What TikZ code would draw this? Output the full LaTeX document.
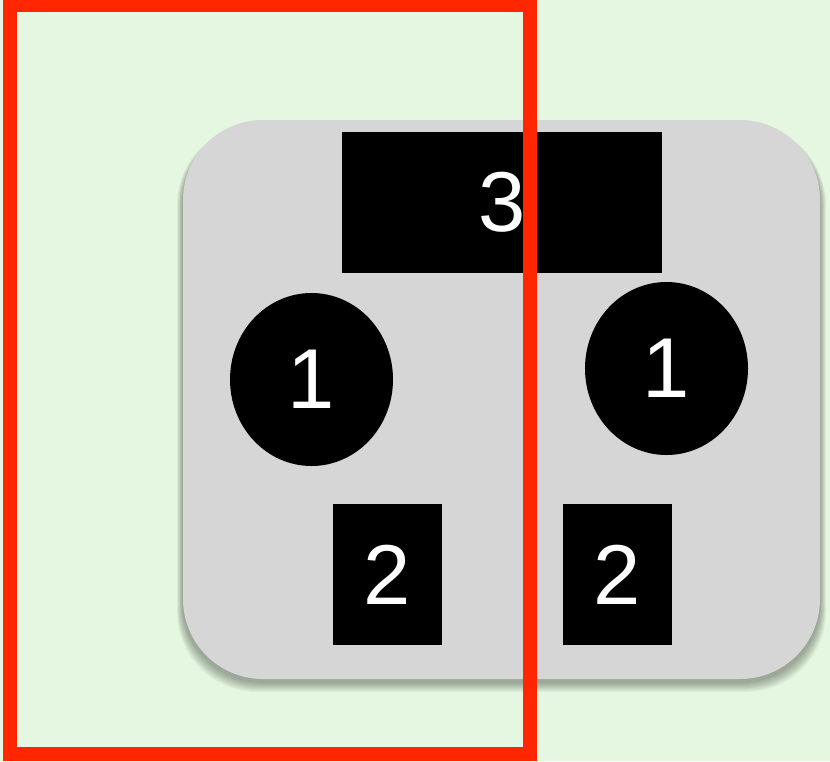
\documentclass[tikz,border=0pt]{standalone}
\usepackage{fontspec}
\setmainfont{Liberation Sans}
\usetikzlibrary{shapes.geometric}
\definecolor{bggreen}{RGB}{229,247,224}
\definecolor{boxgray}{RGB}{214,214,214}
\definecolor{framered}{RGB}{255,38,0}
\tikzset{
  blackbox/.style={fill=black, text=white, inner sep=0pt, font=\fontsize{85}{85}\selectfont},
  blackoval/.style={blackbox, ellipse},
}
\begin{document}
\begin{tikzpicture}[x=1pt, y=-1pt]
\useasboundingbox (0,0) rectangle (830,761);
\fill[bggreen] (0,0) rectangle (830,761);
% shadow
\foreach \i in {1,...,10}{
  \fill[black, opacity=0.035, rounded corners=80pt]
    (183-\i*0.6, 120+5) rectangle (820+\i*0.6, 679+3+\i*1.0);
}
% gray panel
\node[fill=boxgray, rounded corners=80pt, minimum width=637pt, minimum height=559pt, inner sep=0pt] (panel) at (501.5,399.5) {};
% contents
\node[blackbox, minimum width=320pt, minimum height=141pt] (three) at (502,202.5) {3};
\node[blackoval, minimum width=163pt, minimum height=173pt] (oneL) at (311.5,379.5) {1};
\node[blackoval, minimum width=163pt, minimum height=173pt] (oneR) at (666.5,368.5) {1};
\node[blackbox, minimum width=109pt, minimum height=141pt] (twoL) at (387.5,574.5) {2};
\node[blackbox, minimum width=109pt, minimum height=141pt] (twoR) at (617.5,574.5) {2};
% red frame
\draw[framered, line width=14pt] (10,5) rectangle (530,754);
\end{tikzpicture}
\end{document}
